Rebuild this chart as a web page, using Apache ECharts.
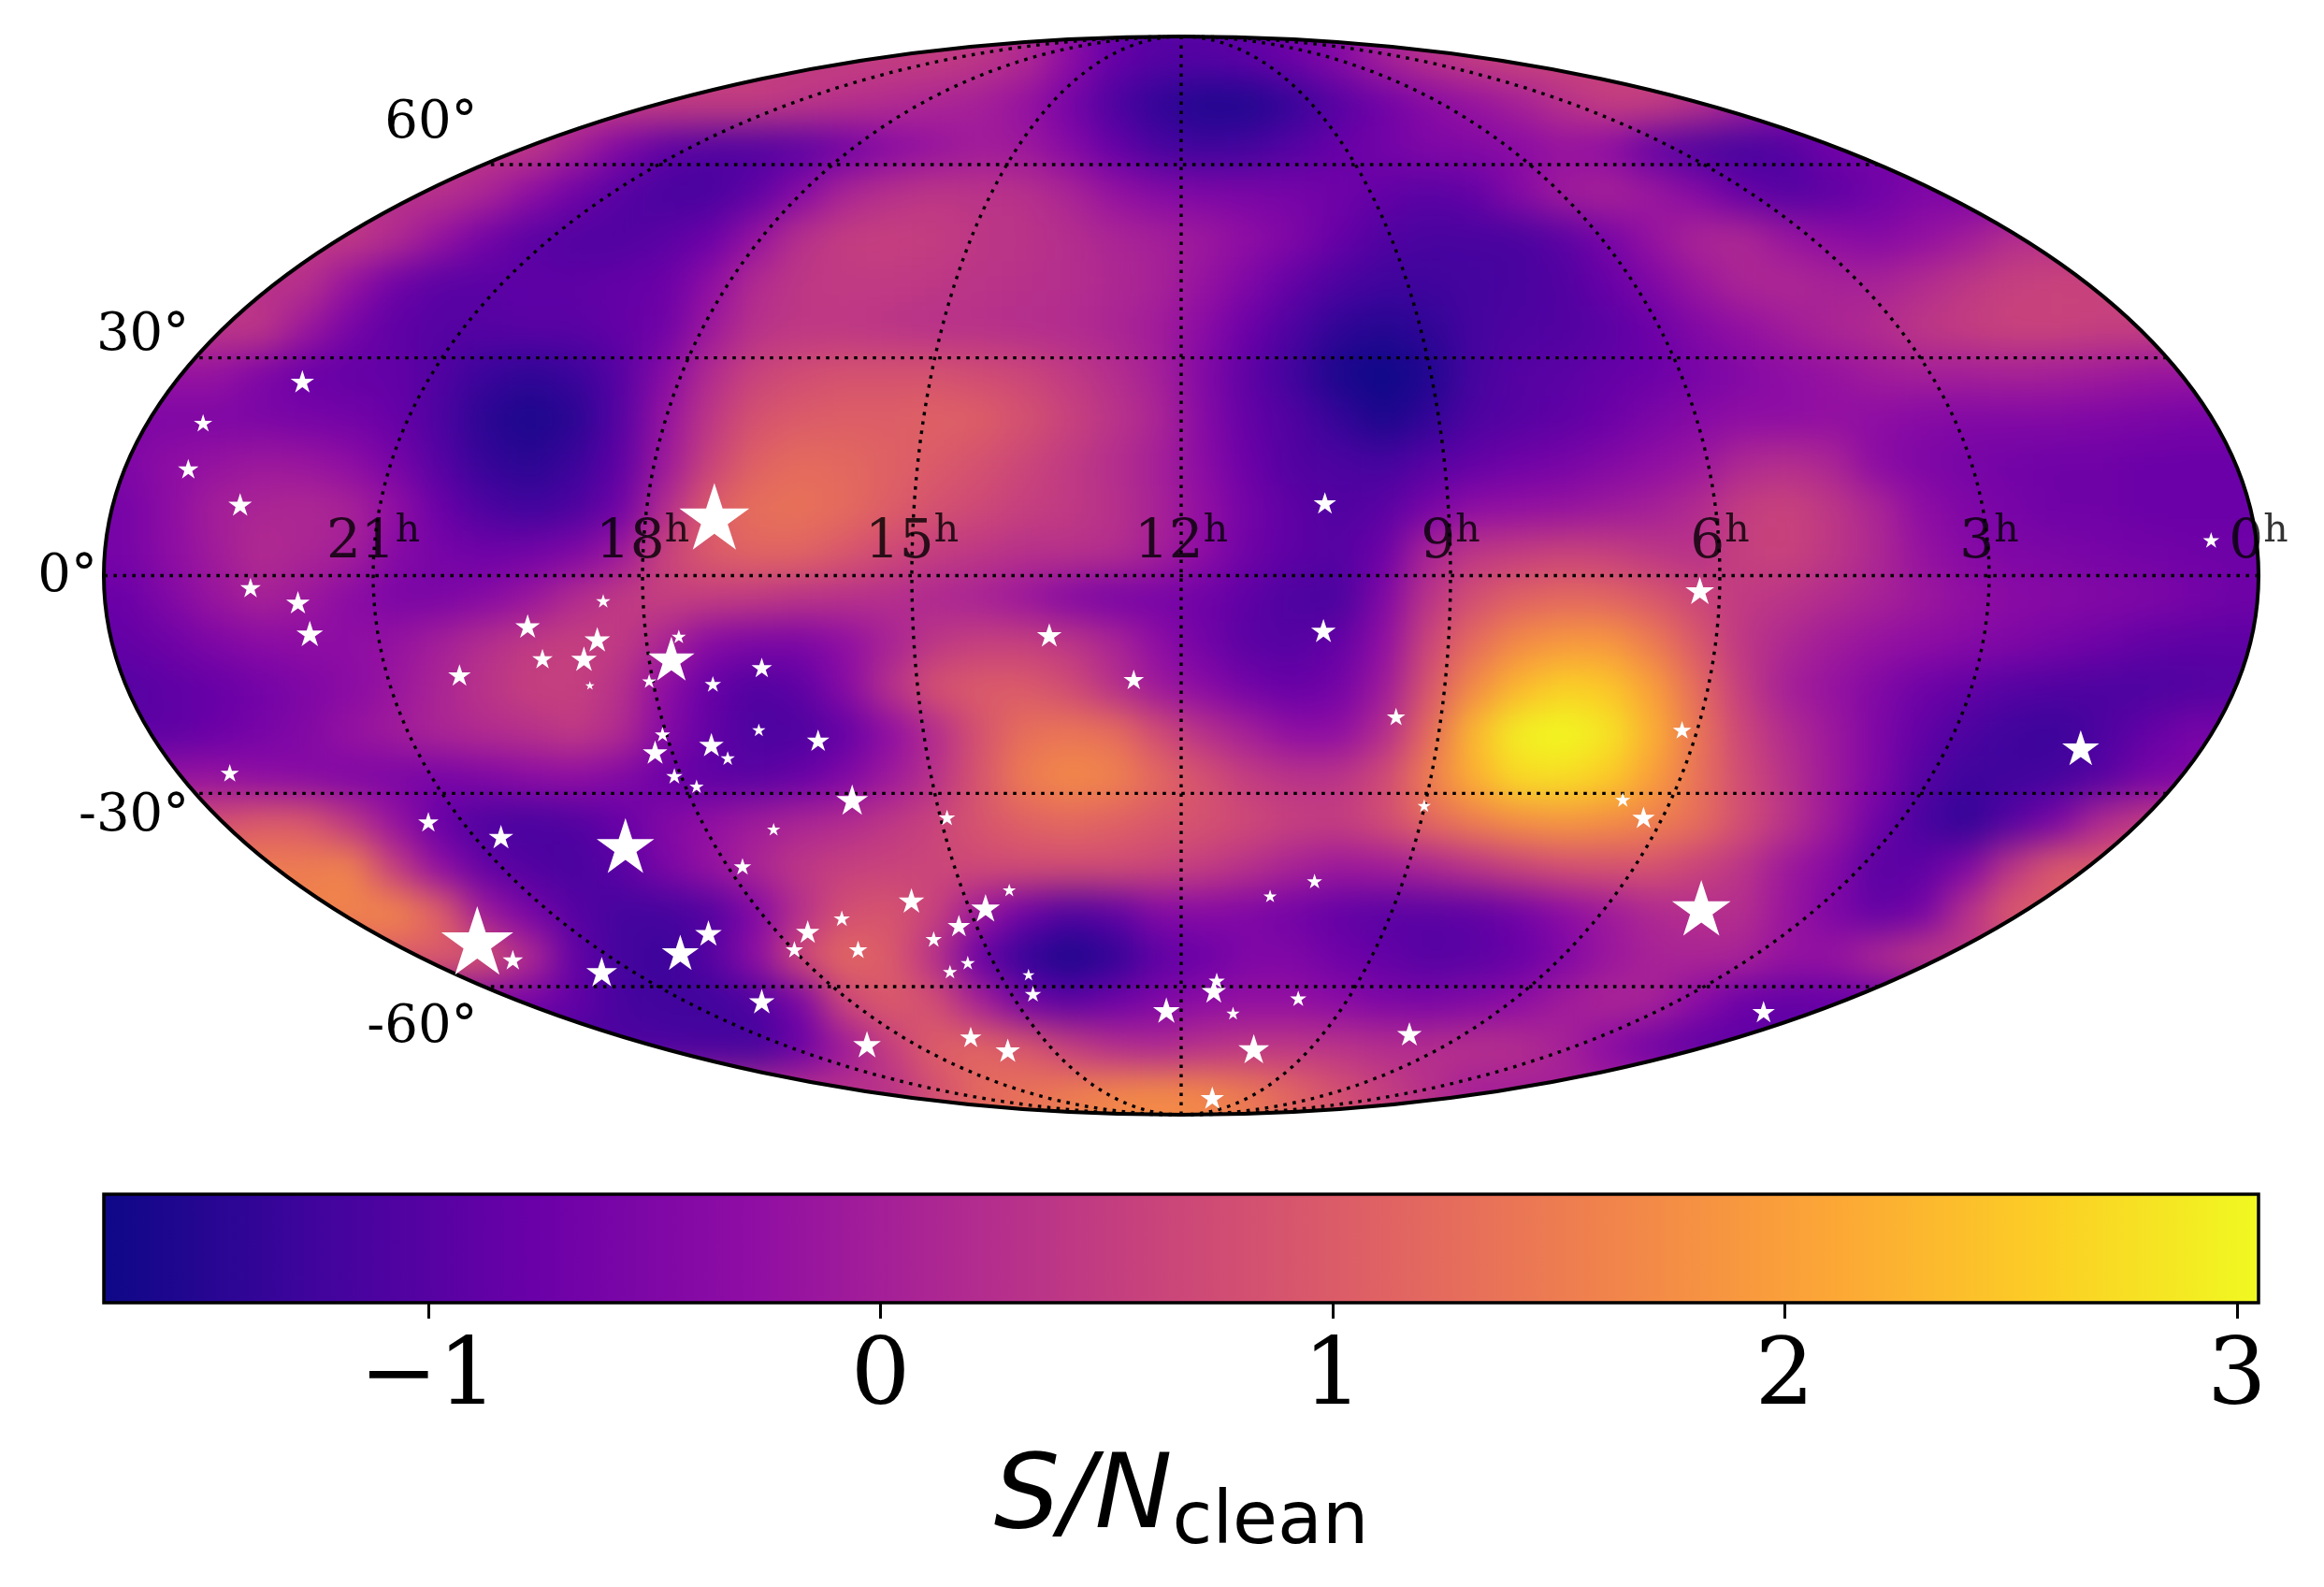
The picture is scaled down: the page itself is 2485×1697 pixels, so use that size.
<!DOCTYPE html>
<html>
<head>
<meta charset="utf-8">
<title>S/N clean sky map</title>
<script src="https://cdn.jsdelivr.net/npm/echarts@6/dist/echarts.min.js"></script>
<style>
  html, body { margin: 0; background: #fff; }
  #chart { width: 2485px; height: 1697px; }
  /* only the heat cells live on zlevel 0: soften them and cut them to the sky ellipse */
  #chart canvas[data-zr-dom-id="zr_0"] {
    filter: blur(19px);
    clip-path: ellipse(1152px 576.5px at 1263px 615.5px);
  }
</style>
</head>
<body>
<div id="chart"></div>
<script>
// S/N values, top row first, left to right, one row per 1/24 of the map height
var snRows = [
  [.5,.5,.5,.5,.5,.5,.5,.5,.5,.5,.5,.5,.5,.5,.5,.5,.5,.5,.5,.4,.2,-.3,-.8,-1,-1,-.9,-.7,-.4,0,.3,.5,.6,.6,.6,.6,.6,.6,.6,.6,.6,.6,.6,.6,.6,.6,.6,.6,.6],
  [.5,.5,.5,.5,.5,.5,.5,.5,.5,.5,.5,.5,.5,.5,.5,.4,.3,.2,.1,0,-.2,-.6,-1.1,-1.4,-1.55,-1.55,-1.35,-1,-.7,-.4,-.2,0,.3,.5,.5,.3,0,-.3,-.5,-.5,-.5,-.5,-.5,-.5,-.5,-.5,-.5,-.5],
  [.4,.4,.4,.4,.4,.4,.4,.4,.4,.4,0,-.5,-.9,-1.05,-1.05,-.95,-.7,-.4,-.2,-.05,-.1,-.4,-.8,-1.15,-1.25,-1.2,-1,-.8,-.65,-.5,-.45,-.35,-.2,-.3,-.85,-1.1,-1.2,-1.05,-.7,-.6,-.6,-.6,-.6,-.6,-.6,-.6,-.6,-.6],
  [.3,.3,.3,.3,.3,.3,.3,.3,.1,-.3,-.7,-1,-1.15,-1.15,-.9,-.4,.1,.3,.4,.35,.3,.1,-.2,-.4,-.5,-.55,-.6,-.7,-.85,-.95,-.85,-.4,-.05,.05,-.1,-.4,-.8,-1,-.9,-.7,-.5,-.5,-.5,-.5,-.5,-.5,-.5,-.5],
  [.45,.45,.45,.45,.45,.45,.2,-.2,-.65,-.95,-1.05,-1.05,-.95,-.75,-.2,.3,.5,.55,.5,.4,.35,.25,.1,0,-.1,-.3,-.5,-.8,-1.05,-1.15,-1.15,-1.15,-.95,-.6,-.2,.1,.15,-.15,-.3,-.4,-.25,-.05,.25,.3,.3,.3,.3,.3],
  [.3,.3,.3,.3,.3,-.2,-.7,-.95,-.95,-.9,-.9,-.85,-.75,-.3,.2,.4,.45,.45,.4,.35,.3,.25,.15,.05,-.2,-.5,-.85,-1.1,-1.25,-1.25,-1.2,-1.15,-1.05,-.8,-.5,-.15,.1,.15,.05,.05,.2,.4,.55,.6,.6,.6,.6,.6],
  [.4,.4,.4,.4,-.1,-.6,-.9,-1,-1,-.95,-.95,-.85,-.7,-.1,.3,.4,.4,.35,.3,.3,.25,.2,.1,-.05,-.35,-.75,-1.1,-1.4,-1.5,-1.4,-1.2,-1.1,-1.05,-.95,-.75,-.45,-.25,-.05,.1,.2,.4,.5,.6,.6,.55,.55,.55,.55],
  [-.2,-.2,-.2,-.5,-.75,-.85,-.85,-1.05,-1.3,-1.4,-1.3,-1,-.4,.2,.6,.75,.85,.85,.85,.75,.65,.45,.25,0,-.45,-.9,-1.25,-1.6,-1.72,-1.55,-1.2,-1,-.95,-.85,-.75,-.6,-.45,-.3,-.2,-.05,0,0,.05,0,-.05,-.15,-.15,-.15],
  [-.5,-.5,-.5,-.55,-.6,-.65,-.8,-1.1,-1.45,-1.6,-1.45,-1,-.2,.4,.85,1,1.05,1.05,1.1,1.05,.85,.6,.35,.1,-.4,-.85,-1.05,-1.35,-1.6,-1.4,-1.1,-1,-.9,-.75,-.55,-.4,-.3,-.3,-.25,-.3,-.4,-.45,-.45,-.45,-.5,-.55,-.6,-.6],
  [-.5,-.3,-.2,-.1,-.15,-.3,-.6,-1,-1.35,-1.45,-1.3,-.9,-.1,.6,1.1,1.25,1.2,1.1,1,.85,.65,.45,.25,0,-.35,-.75,-1.05,-1.1,-1.2,-1,-.85,-.7,-.6,-.45,-.3,-.15,.15,.25,.1,-.35,-.5,-.6,-.65,-.7,-.7,-.75,-.75,-.75],
  [-.6,-.3,0,.1,.15,.05,-.25,-.75,-1.1,-1.25,-1.1,-.7,.2,1,1.3,1.35,1.25,1.05,.85,.7,.55,.45,.3,.05,-.25,-.65,-.9,-1.05,-.95,-.6,-.3,-.25,-.2,-.1,0,.2,.5,.6,.4,.1,-.3,-.5,-.6,-.7,-.7,-.75,-.75,-.75],
  [-.6,-.3,-.05,.2,.1,0,-.4,-.6,-.7,-.65,-.5,-.1,.6,1,1.15,1.15,.95,.7,.5,.4,.3,.3,.25,0,-.3,-.7,-.9,-1,-.75,.1,.4,.5,.6,.55,.4,.3,.55,.6,.4,.15,-.2,-.4,-.5,-.55,-.6,-.65,-.7,-.7],
  [-.75,-.45,-.15,.05,-.1,-.35,-.55,-.55,-.4,-.15,.2,.45,.55,.5,.45,.35,.3,.25,.15,.05,-.15,-.45,-.6,-.6,-.7,-.9,-1.1,-1.15,-.5,.35,.8,1.1,1.2,1.15,.95,.65,.45,.35,.2,.05,-.1,-.25,-.35,-.4,-.45,-.5,-.6,-.7],
  [-.85,-.7,-.5,-.35,-.3,-.3,-.2,0,.25,.45,.55,.45,.1,-.4,-.55,-.55,-.3,.05,.4,.55,.55,.4,.1,-.3,-.65,-.95,-1,-.85,-.3,.65,1.25,1.7,1.9,1.9,1.5,.95,.4,.15,-.05,-.2,-.3,-.4,-.5,-.6,-.7,-.85,-.9,-.9],
  [-1,-.9,-.8,-.65,-.5,-.35,-.15,.1,.35,.55,.55,.3,-.3,-.8,-1.05,-.9,-.4,.3,.85,1,1,.75,.3,-.1,-.35,-.65,-.8,-.65,-.1,.9,1.7,2.3,2.6,2.5,2,1.25,.5,0,-.2,-.45,-.7,-.85,-1,-1.05,-1.1,-1.1,-1.05,-1],
  [-.9,-.9,-.75,-.6,-.45,-.2,-.05,.1,.2,.3,.45,.2,-.4,-.85,-1.1,-1.1,-.85,-.3,.2,.85,1.3,1.4,1.3,.75,.3,0,-.3,-.3,.2,1.2,2.3,2.95,3.05,2.85,2.2,1.4,.65,.2,-.1,-.5,-.85,-1.1,-1.25,-1.3,-1.1,-.85,-.6,-.6],
  [-.2,-.2,-.2,-.3,-.4,-.5,-.55,-.6,-.5,-.35,-.3,-.45,-.75,-.9,-.95,-.8,-.5,-.1,.3,.9,1.5,1.7,1.6,1.2,.85,.5,.35,.35,.7,1.5,2.2,2.7,2.75,2.55,2,1.35,.75,.3,-.1,-.5,-1,-1.25,-1.25,-1.2,-1,-.6,-.5,-.5],
  [.8,.8,.8,1,.95,.4,-.2,-.8,-1.1,-1.15,-1.05,-.8,-.45,-.25,-.05,.1,.2,.4,.6,.9,1.1,1.2,1.1,.95,.85,.7,.55,.5,.75,1.2,1.5,1.75,1.85,1.75,1.55,1.3,.8,.35,-.1,-.7,-1.15,-1.4,-1,-.55,.2,.5,.5,.5],
  [1.5,1.5,1.5,1.5,1.5,1.6,.5,-.3,-.85,-1.05,-1.15,-.95,-.55,-.2,.1,.4,.55,.6,.65,.7,.75,.75,.75,.65,.5,.3,.05,-.1,-.05,.1,.35,.6,.8,.85,.85,.6,.35,-.1,-.4,-.95,-.9,-.5,.4,1,1,1,1,1],
  [1.6,1.6,1.6,1.6,1.6,1.6,1.65,1.1,-.1,-.6,-1,-1.2,-1.2,-1.05,-.5,.25,.8,.9,.6,-.1,-.7,-1.05,-.9,-.45,-.4,-.5,-.65,-.85,-.95,-.95,-.9,-.7,-.35,-.1,.15,.25,.25,-.15,-.5,-.85,-.65,.3,1,1,1,1,1,1],
  [1,1,1,1,1,1,1,1,.9,.2,-.85,-1.2,-1.3,-1,-.3,.7,1.2,1,.3,-.8,-1.35,-1.6,-1.4,-.9,-.75,-.5,-.5,-.7,-.85,-1,-.95,-.8,-.5,-.15,.05,.1,.05,-.2,-.2,.15,.45,.45,.45,.45,.45,.45,.45,.45],
  [-.6,-.6,-.6,-.6,-.6,-.6,-.6,-.6,-.6,-.6,-.85,-1.15,-1.25,-1.25,-1.1,-.6,.65,1,.8,.05,-.65,-.9,-.7,-.5,-.3,-.25,-.25,-.35,-.5,-.55,-.45,-.3,-.05,.1,.05,-.35,-.75,-.85,-.8,-.8,-.8,-.8,-.8,-.8,-.8,-.8,-.8,-.8],
  [-1.1,-1.1,-1.1,-1.1,-1.1,-1.1,-1.1,-1.1,-1.1,-1.1,-1.1,-1.1,-1.1,-1.15,-1.2,-.8,-.1,.5,1.05,1.15,.95,.55,.25,.15,.3,.4,.4,.35,.25,.25,.3,.25,.05,-.35,-.7,-.9,-.9,-.9,-.9,-.9,-.9,-.9,-.9,-.9,-.9,-.9,-.9,-.9],
  [.3,.3,.3,.3,.3,.3,.3,.3,.3,.3,.3,.3,.3,.3,.3,.3,.3,.3,.8,1.2,1.35,1.5,1.65,1.7,1.65,1.45,1.15,.85,.55,.3,0,0,0,0,0,0,0,0,0,0,0,0,0,0,0,0,0,0]
];

var plasmaStops = ['#0d0887', '#41049d', '#6a00a8', '#8f0da4', '#b12a90', '#cc4778', '#e16462', '#f1844b', '#fca636', '#fcce25', '#f0f921'];
var colorbarRange = [-1.718, 3.048];
var colorbarTicks = [-1, 0, 1, 2, 3];

var raHours = [0, 3, 6, 9, 12, 15, 18, 21];
var decLabels = [60, 30, 0, -30, -60];

// stars, in the projected plane (map half width 727, half height 363.5)
var starX = [-593, -660, -670, -635, -315, 97, 695, -628, -596, -588, -390, -441, -394, -339, -431, -403, -344, -487, -399, -359, -316, -283, -89, -32, 96, 350, 145, 338, -350, -285, -317, -245, -355, -306, -342, -642, -327, -222, 607, 298, 312, 164, -158, -275, -508, -459, -375, -296, -116, 90, 60, 351, -182, -132, -229, -150, -167, -252, -218, -261, -319, -338, -475, -451, -391, -156, -144, -103, -100, 24, 22, 79, 35, -10, -283, 393, 154, -142, -212, -117, 49, 21];
var starY = [131, 103, 72, 48, 40, 49, 24, -8, -18, -39, -17, -34, -43, -41, -56, -56, -56, -67, -74, -71, -73, -62, -40, -70, -37, -10, -95, -104, -107, -104, -114, -111, -119, -123, -135, -133, -142, -151, -116, -151, -163, -155, -163, -171, -166, -176, -182, -196, -212, -206, -216, -224, -219, -224, -231, -236, -245, -240, -252, -252, -241, -254, -246, -259, -267, -267, -261, -269, -282, -273, -280, -285, -295, -293, -287, -294, -309, -311, -316, -320, -319, -352];
var starWeight = [2.3, 1.8, 2, 2.3, 6.8, 2.2, 1.6, 2, 2.3, 2.6, 1.4, 2.4, 2.5, 1.4, 2, 2.5, 4.5, 2.2, .9, 1.4, 1.6, 2, 2.4, 2, 2.4, 2.8, 1.8, 1.8, 1.5, 1.3, 2.4, 2.2, 2.4, 1.4, 1.6, 1.8, 1.4, 3.1, 3.6, 1.5, 2.2, 1.3, 1.6, 1.3, 2, 2.4, 5.6, 1.7, 1.3, 1.5, 1.3, 5.7, 2.5, 2.8, 1.6, 2.2, 1.6, 2.3, 1.8, 1.7, 2.6, 3.6, 7, 2, 3, 1.4, 1.4, 1.2, 1.6, 1.6, 2.4, 1.6, 1.3, 2.6, 2.5, 2.2, 2.4, 2.1, 2.7, 2.4, 3, 2.3];

var SERIF = '"DejaVu Serif", serif';
var starPath = 'path://M0 -100L22.45 -30.9L95.1 -30.9L36.3 11.8L58.8 80.9L0 38.2L-58.8 80.9L-36.3 11.8L-95.1 -30.9L-22.45 -30.9Z';

// mollweide: RA in hours (increasing to the left), dec in degrees -> projected plane
function project(ra, dec) {
  var target = Math.PI * Math.sin(dec * Math.PI / 180);
  var lo = -Math.PI / 2, hi = Math.PI / 2;
  for (var k = 0; k < 40; k++) {
    var mid = (lo + hi) / 2;
    if (2 * mid + Math.sin(2 * mid) < target) lo = mid; else hi = mid;
  }
  var theta = (lo + hi) / 2;
  return [-(ra - 12) / 12 * 727 * Math.cos(theta), 363.5 * Math.sin(theta)];
}

// one extra ring of cells repeats the edge values, so the blur has colour to pull in at the rim
var nCols = snRows[0].length, nRows = snRows.length;
var colIndex = [], rowIndex = [], heatData = [];
for (var ci = 0; ci < nCols + 2; ci++) colIndex.push(ci);
for (var ri = 0; ri < nRows + 2; ri++) rowIndex.push(ri);
rowIndex.forEach(function (j) {
  var row = snRows[Math.min(Math.max(j - 1, 0), nRows - 1)];
  colIndex.forEach(function (i) {
    heatData.push([i, j, row[Math.min(Math.max(i - 1, 0), nCols - 1)]]);
  });
});

var series = [{
  type: 'heatmap',
  xAxisIndex: 0,
  yAxisIndex: 0,
  zlevel: 0,
  silent: true,
  progressive: 0,
  data: heatData
}];

function gratLine(points) {
  return {
    type: 'line',
    xAxisIndex: 1,
    yAxisIndex: 1,
    zlevel: 1,
    z: 3,
    silent: true,
    showSymbol: false,
    clip: false,
    lineStyle: { color: '#000', width: 3.4, type: [3.6, 6.4] },
    data: points
  };
}

// meridians
raHours.filter(function (h) { return h > 0; }).forEach(function (h) {
  var pts = [];
  for (var d = -90; d <= 90; d += (Math.abs(d) >= 80 ? 0.5 : 2)) pts.push(project(h, d));
  series.push(gratLine(pts));
});
// parallels
decLabels.forEach(function (dec) {
  series.push(gratLine([project(0, dec), project(24, dec)]));
});

// sky outline
series.push({
  type: 'custom',
  xAxisIndex: 1,
  yAxisIndex: 1,
  zlevel: 1,
  z: 4,
  silent: true,
  clip: false,
  data: [[0, 0]],
  renderItem: function (params, api) {
    var c = api.coord([0, 0]);
    var s = api.size([727, 363.5]);
    return {
      type: 'ellipse',
      shape: { cx: c[0], cy: c[1], rx: s[0], ry: s[1] },
      style: { fill: 'none', stroke: '#000', lineWidth: 4 }
    };
  }
});

// stars
series.push({
  type: 'scatter',
  xAxisIndex: 1,
  yAxisIndex: 1,
  zlevel: 1,
  z: 5,
  silent: true,
  symbol: starPath,
  symbolKeepAspect: true,
  symbolSize: function (v) { return v[2] * 11; },
  itemStyle: { color: '#fff', opacity: 1 },
  data: starX.map(function (x, i) { return [x, starY[i], starWeight[i]]; })
});

// hour labels along the equator
series.push({
  type: 'scatter',
  xAxisIndex: 1,
  yAxisIndex: 1,
  zlevel: 1,
  z: 6,
  silent: true,
  symbolSize: 0,
  clip: false,
  data: raHours.map(function (h) { return { name: String(h), value: project(h, 0) }; }),
  label: {
    show: true,
    position: 'top',
    distance: 2,
    color: '#000',
    formatter: function (p) { return '{d|' + p.name + '}{h|h}'; },
    rich: {
      d: { fontFamily: SERIF, fontSize: 58, lineHeight: 66, color: '#000' },
      h: { fontFamily: SERIF, fontSize: 41, lineHeight: 66, verticalAlign: 'top', color: '#000', padding: [0, 0, 18, 0] }
    }
  }
});

// dec labels left of the rim
var decOffsetY = { '60': -44, '30': -23, '0': 2, '-30': 25, '-60': 44 };
series.push({
  type: 'scatter',
  xAxisIndex: 1,
  yAxisIndex: 1,
  zlevel: 1,
  z: 6,
  silent: true,
  symbolSize: 0,
  clip: false,
  data: decLabels.map(function (d) {
    return {
      name: d + '°',
      value: project(24, d),
      label: { offset: [0, decOffsetY[d]], color: '#000', opacity: 1 }
    };
  }),
  label: {
    show: true,
    position: 'left',
    distance: 7,
    color: '#000',
    fontFamily: SERIF,
    fontSize: 56,
    formatter: '{b}'
  }
});

// colorbar
series.push({
  type: 'custom',
  xAxisIndex: 2,
  yAxisIndex: 2,
  zlevel: 1,
  silent: true,
  clip: false,
  data: [[colorbarRange[0], 0]],
  renderItem: function (params, api) {
    var a = api.coord([colorbarRange[0], 1]);
    var b = api.coord([colorbarRange[1], 0]);
    return {
      type: 'rect',
      shape: { x: a[0], y: a[1], width: b[0] - a[0], height: b[1] - a[1] },
      style: {
        fill: new echarts.graphic.LinearGradient(0, 0, 1, 0, plasmaStops.map(function (c, i) {
          return { offset: i / (plasmaStops.length - 1), color: c };
        })),
        stroke: '#000',
        lineWidth: 3.5
      }
    };
  }
});

var chart = echarts.init(document.getElementById('chart'));
chart.setOption({
  animation: false,
  grid: [
    { left: 63, top: -9, width: 2400, height: 1249, zlevel: 1, outerBoundsMode: 'none' },
    { left: 111, top: 39, width: 2304, height: 1153, zlevel: 1, outerBoundsMode: 'none' },
    { left: 111, top: 1277, width: 2304, height: 116, zlevel: 1, outerBoundsMode: 'none' }
  ],
  xAxis: [
    { type: 'category', gridIndex: 0, data: colIndex, show: false },
    { type: 'value', gridIndex: 1, min: -727, max: 727, show: false },
    {
      type: 'value',
      gridIndex: 2,
      zlevel: 1,
      min: colorbarRange[0],
      max: colorbarRange[1],
      splitLine: { show: false },
      axisLine: { show: false },
      axisTick: { length: 17, lineStyle: { color: '#000', width: 3 }, customValues: colorbarTicks },
      axisLabel: {
        customValues: colorbarTicks,
        margin: 32,
        color: '#000',
        fontFamily: SERIF,
        fontSize: 100,
        formatter: function (v) { return v < 0 ? '\u2212' + Math.abs(v) : String(v); }
      },
      name: '{s|S/N}{c|clean}',
      nameLocation: 'middle',
      nameGap: 146,
      nameTextStyle: {
        rich: {
          s: { fontFamily: '"DejaVu Sans"', fontStyle: 'italic', fontSize: 111, lineHeight: 130, color: '#000' },
          c: { fontFamily: '"DejaVu Sans"', fontSize: 78, lineHeight: 130, verticalAlign: 'bottom', color: '#000', padding: [30, 0, 0, 0] }
        }
      }
    }
  ],
  yAxis: [
    { type: 'category', gridIndex: 0, inverse: true, data: rowIndex, show: false },
    { type: 'value', gridIndex: 1, min: -363.5, max: 363.5, show: false },
    { type: 'value', gridIndex: 2, min: 0, max: 1, show: false }
  ],
  visualMap: {
    show: false,
    type: 'continuous',
    seriesIndex: 0,
    dimension: 2,
    min: colorbarRange[0],
    max: colorbarRange[1],
    inRange: { color: plasmaStops }
  },
  series: series
});
</script>
</body>
</html>
